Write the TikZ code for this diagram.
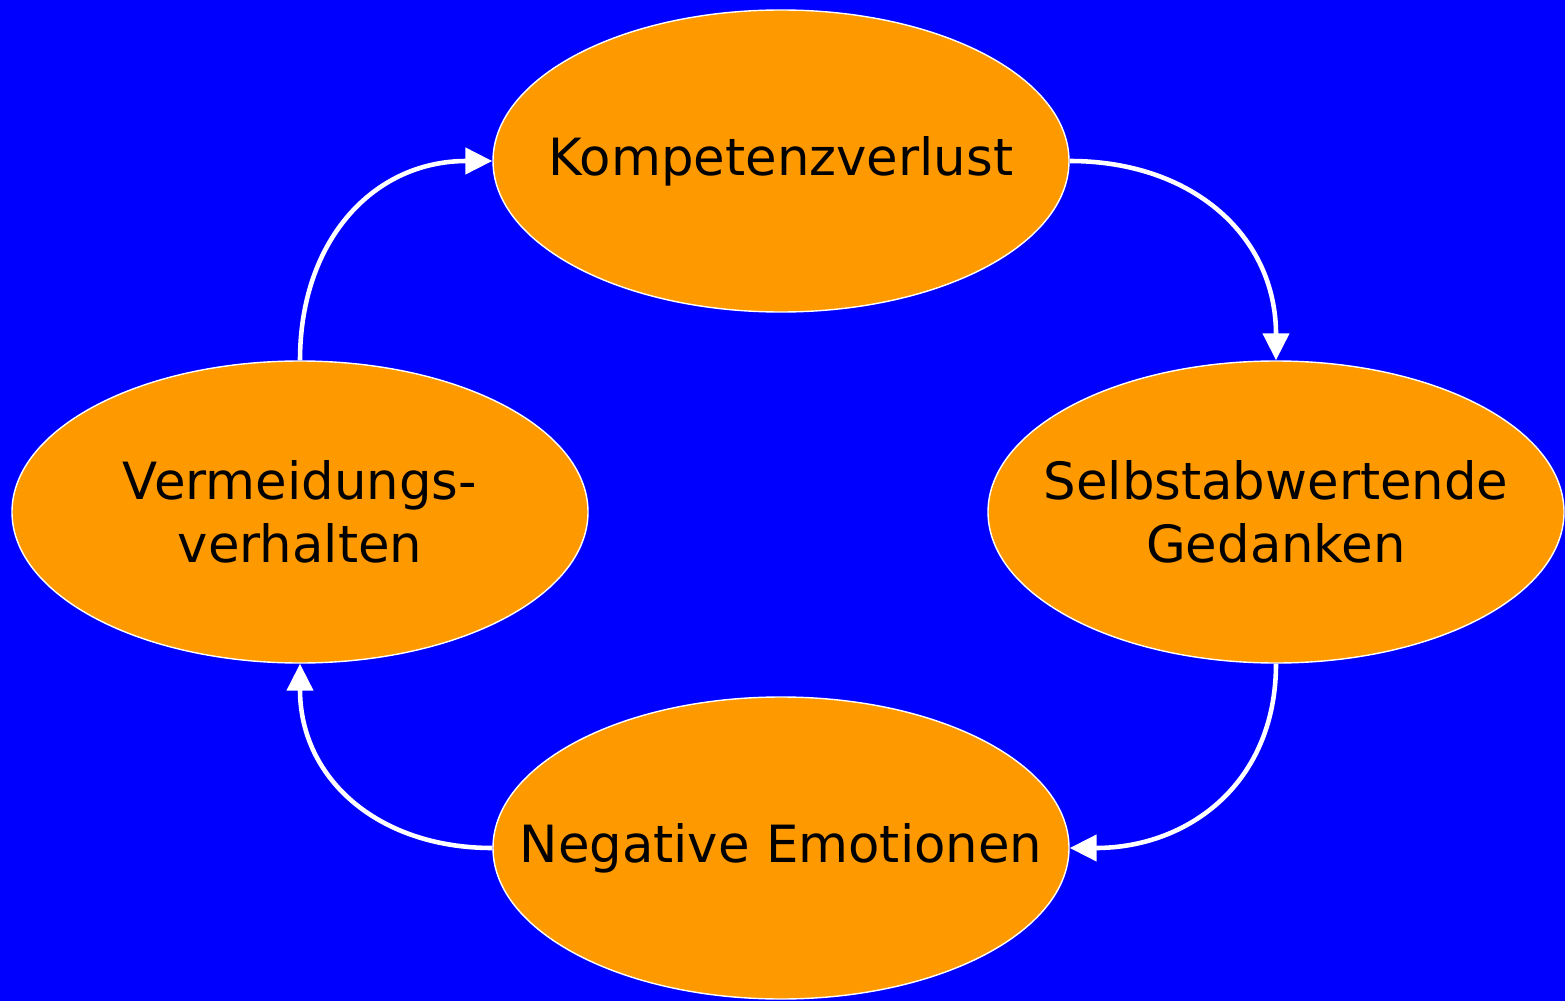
\documentclass[tikz,border=0pt]{standalone}
\usepackage{fontspec}
\setmainfont{DejaVu Sans}
\usetikzlibrary{shapes.geometric,arrows.meta}
\definecolor{bgblue}{RGB}{0,0,255}
\definecolor{ovalorange}{RGB}{255,153,0}
\tikzset{
	oval/.style={ellipse, fill=ovalorange, draw=white, line width=0.4pt, minimum width=5.76cm, minimum height=3.02cm, inner xsep=-0.7cm, inner ysep=0pt, align=center, font=\fontsize{14.6}{18}\selectfont},
	flow/.style={white, line width=1.3pt, -{Triangle[width=0.26cm,length=0.27cm]}}
}
\begin{document}
\begin{tikzpicture}
		% Background
		\fill[bgblue] (0,0) rectangle (15.65,10.01);
		\useasboundingbox (0,0) rectangle (15.65,10.01);

		% Ovals
		\node[oval] (kompetenz) at (7.81,8.40) {Kompetenzverlust};
		\node[oval] (gedanken) at (12.76,4.89) {Selbstabwertende\\Gedanken};
		\node[oval] (emotionen) at (7.81,1.53) {Negative Emotionen};
		\node[oval] (vermeidung) at (3.00,4.89) {Vermeidungs-\\verhalten};

		% Cycle
		\draw[flow] (kompetenz.east) to[out=0,in=90,looseness=1.1] (gedanken.north);
		\draw[flow] (gedanken.south) to[out=-90,in=0,looseness=1.1] (emotionen.east);
		\draw[flow] (emotionen.west) to[out=180,in=-90,looseness=1.1] (vermeidung.south);
		\draw[flow] (vermeidung.north) to[out=90,in=180,looseness=1.1] (kompetenz.west);
	\end{tikzpicture}
\end{document}
